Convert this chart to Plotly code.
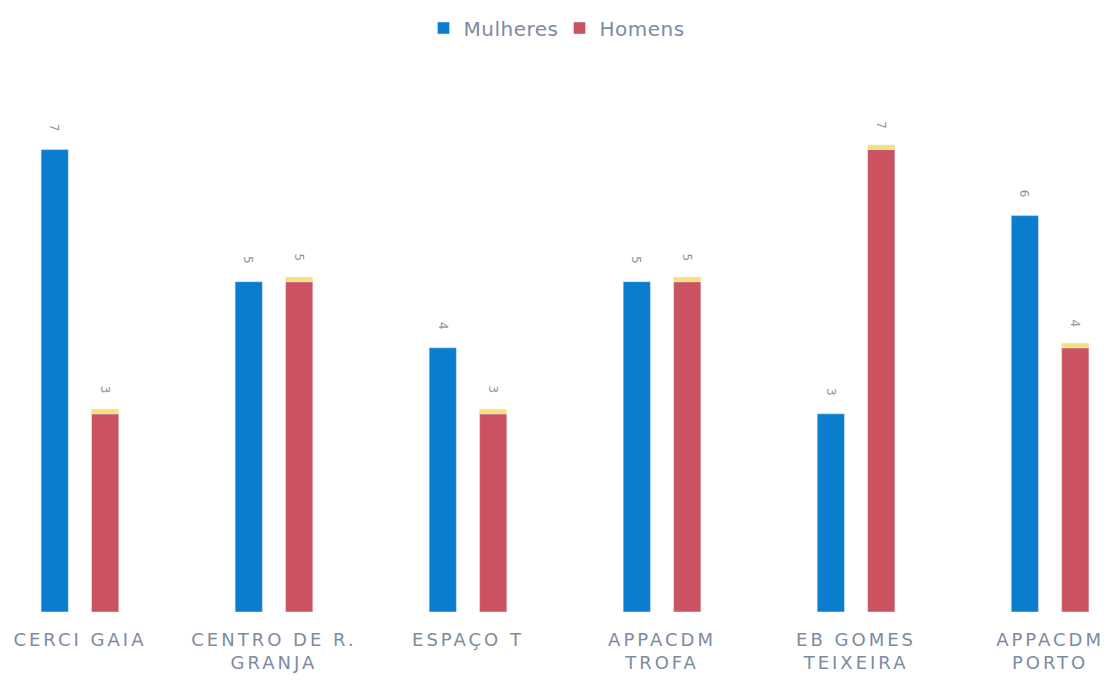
import plotly.graph_objects as go

categories = ["CERCI GAIA", "CENTRO DE R.<br>GRANJA", "ESPAÇO T", "APPACDM<br>TROFA", "EB GOMES<br>TEIXEIRA", "APPACDM<br>PORTO"]
mulheres = [7, 5, 4, 5, 3, 6]
homens = [3, 5, 3, 5, 7, 4]
cap = [0.07] * len(homens)

BLUE = "#0a7dcf"
RED = "#cb5361"
YELLOW = "#f4e07c"
GREY = "#7d8ba0"
LABEL = "#8f949c"

BARGAP = 0.48
OFF = (1 - BARGAP) / 4

fig = go.Figure()
fig.add_trace(go.Bar(name="Mulheres", x=categories, y=mulheres, marker_color=BLUE, offsetgroup="m"))
fig.add_trace(go.Bar(name="Homens", x=categories, y=homens, marker_color=RED, offsetgroup="h"))
fig.add_trace(go.Bar(name="Homens", x=categories, y=cap, base=homens, marker_color=YELLOW,
                     offsetgroup="h", showlegend=False, hoverinfo="skip"))

for i, (m, h) in enumerate(zip(mulheres, homens)):
    fig.add_annotation(x=i - OFF, y=m, text=str(m), showarrow=False, textangle=90,
                       yshift=22, font=dict(size=12, color=LABEL))
    fig.add_annotation(x=i + OFF, y=h, text=str(h), showarrow=False, textangle=90,
                       yshift=24, font=dict(size=12, color=LABEL))

fig.update_layout(
    width=1111, height=680,
    paper_bgcolor="white", plot_bgcolor="white",
    margin=dict(l=0, r=0, t=100, b=68, autoexpand=False),
    barmode="group", bargap=BARGAP, bargroupgap=0.46,
    font=dict(family="DejaVu Sans", color=GREY),
    legend=dict(orientation="h", x=0.5, xanchor="center", xref="container",
                y=1 - 28 / 680, yanchor="middle", yref="container",
                font=dict(size=20, color=GREY), traceorder="normal"),
    showlegend=True,
)
fig.update_xaxes(range=[-0.412, 5.314], showgrid=False, showline=False, ticks="",
                 tickfont=dict(size=18, color=GREY), automargin=False, ticklabelstandoff=15)
fig.update_yaxes(range=[0, 7.75], visible=False, showgrid=False, automargin=False)

post = """
document.body.style.margin='0';
document.querySelectorAll('.xtick text').forEach(function(t){t.style.letterSpacing='3px';});
document.querySelectorAll('.legendtext').forEach(function(t){t.style.letterSpacing='0.5px';});
"""
fig.write_html("out.html", post_script=post, config={"displayModeBar": False})
